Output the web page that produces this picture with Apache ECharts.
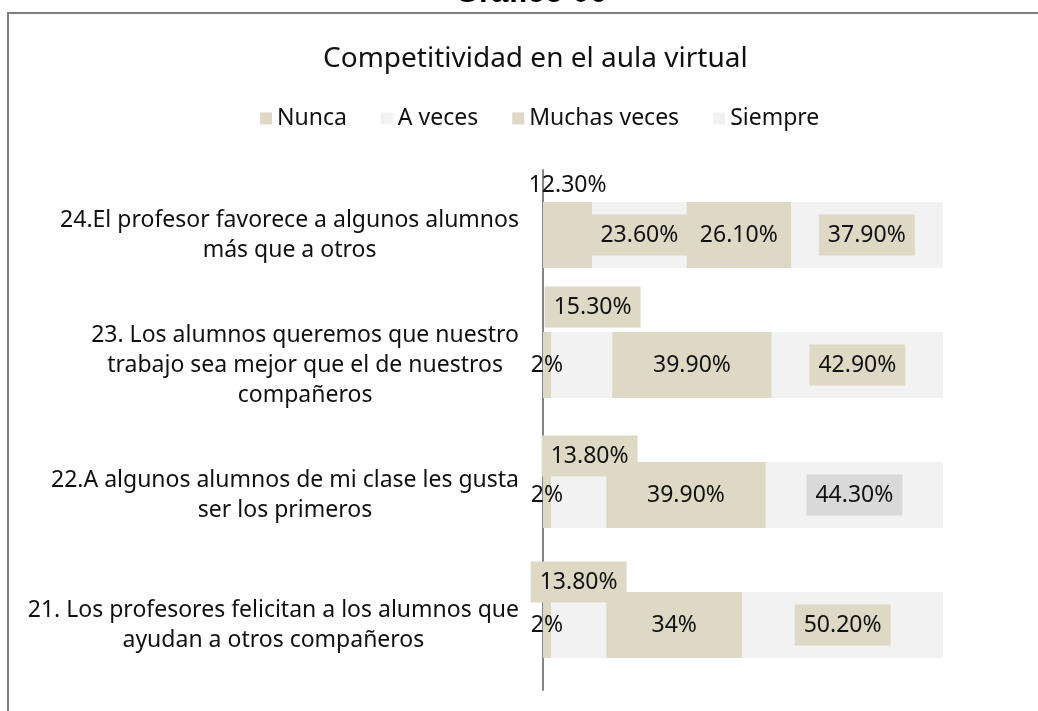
<!DOCTYPE html>
<html>
<head>
<meta charset="utf-8">
<title>Competitividad en el aula virtual</title>
<script src="https://cdn.jsdelivr.net/npm/echarts@6/dist/echarts.min.js"></script>
<style>
  html, body { margin: 0; padding: 0; background: #fff; }
  #chart { width: 1038px; height: 711px; }
</style>
</head>
<body>
<div id="chart"></div>
<script>
// preguntas, de arriba hacia abajo
const categories = [
    '24.El profesor favorece a algunos alumnos\nmás que a otros',
    '23. Los alumnos queremos que nuestro\ntrabajo sea mejor que el de nuestros\ncompañeros',
    '22.A algunos alumnos de mi clase les gusta\nser los primeros',
    '21. Los profesores felicitan a los alumnos que\nayudan a otros compañeros'
]
const seriesNames = ['Nunca', 'A veces', 'Muchas veces', 'Siempre']
const nunca = [12.3, 2, 2, 2]
const aVeces = [23.6, 15.3, 13.8, 13.8]
const muchasVeces = [26.1, 39.9, 39.9, 34]
const siempre = [37.9, 42.9, 44.3, 50.2]

const TAN = '#ddd9c4'
const GRAY = '#f2f2f2'
const FONT = 'Noto Sans'

const chartInstance = echarts.init(document.getElementById('chart'))

const fmt = (v) => (Number.isInteger(v) ? v : v.toFixed(2)) + '%'

// etiqueta con fondo (como en Excel)
const boxLabel = (bg, offset) => ({
    backgroundColor: bg,
    padding: [9, 9],
    offset: offset || [0, 0]
})

// ajustes de etiquetas por punto (movidas a mano en el original)
const labelTweaks = [
    [{ offset: [0, -50] }, {}, {}, {}],
    [boxLabel(TAN), boxLabel(TAN, [11, -58]), boxLabel(TAN, [11, -39]), boxLabel(TAN, [0, -43])],
    [boxLabel(TAN), boxLabel(TAN), boxLabel(TAN), boxLabel(TAN)],
    [boxLabel(TAN), boxLabel(TAN), boxLabel('#d9d9d9'), boxLabel(TAN)]
]

const colors = [TAN, GRAY, TAN, GRAY]
const values = [nunca, aVeces, muchasVeces, siempre]

const series = values.map((arr, si) => ({
    name: seriesNames[si],
    type: 'bar',
    stack: 'total',
    barWidth: 66,
    itemStyle: { color: colors[si] },
    label: {
        show: true,
        position: 'inside',
        color: '#111',
        fontFamily: FONT,
        fontSize: 23,
        lineHeight: 23,
        formatter: (p) => fmt(p.value)
    },
    data: arr.map((v, i) => ({ value: v, label: labelTweaks[si][i] }))
}))

const option = {
    animation: false,
    backgroundColor: '#fff',
    textStyle: { fontFamily: FONT },
    graphic: [
        {
            type: 'text',
            left: 455,
            top: -22,
            style: {
                text: 'Gráfico 06',
                font: 'bold 31px "Liberation Sans"',
                fill: '#000'
            }
        },
        {
            type: 'rect',
            shape: { x: 8, y: 13, width: 1040, height: 710 },
            style: { fill: 'none', stroke: '#7f7f7f', lineWidth: 2 },
            silent: true
        }
    ],
    title: {
        text: 'Competitividad en el aula virtual',
        left: 318,
        top: 40,
        textStyle: {
            fontFamily: FONT,
            fontSize: 28,
            fontWeight: 'normal',
            color: '#111'
        }
    },
    legend: {
        top: 102,
        left: 255,
        icon: 'rect',
        itemWidth: 12,
        itemHeight: 12,
        itemGap: 34,
        data: seriesNames,
        textStyle: { fontFamily: FONT, fontSize: 23, color: '#111' }
    },
    grid: {
        left: 543,
        right: 95,
        top: 170,
        bottom: 21
    },
    xAxis: {
        type: 'value',
        min: 0,
        max: 100,
        show: false
    },
    yAxis: {
        type: 'category',
        inverse: true,
        data: categories,
        axisLine: { show: true, lineStyle: { color: '#868686', width: 2 } },
        axisTick: { show: false },
        axisLabel: {
            align: 'right',
            margin: 24,
            // bloque alineado a la derecha, cada línea centrada
            formatter: (val) => val.split('\n').map(l => '{c|' + l + '}').join('\n'),
            rich: {
                c: {
                    fontFamily: FONT,
                    fontSize: 23,
                    lineHeight: 30,
                    color: '#111',
                    align: 'center'
                }
            }
        }
    },
    series: series
}

chartInstance.setOption(option)
</script>
</body>
</html>
